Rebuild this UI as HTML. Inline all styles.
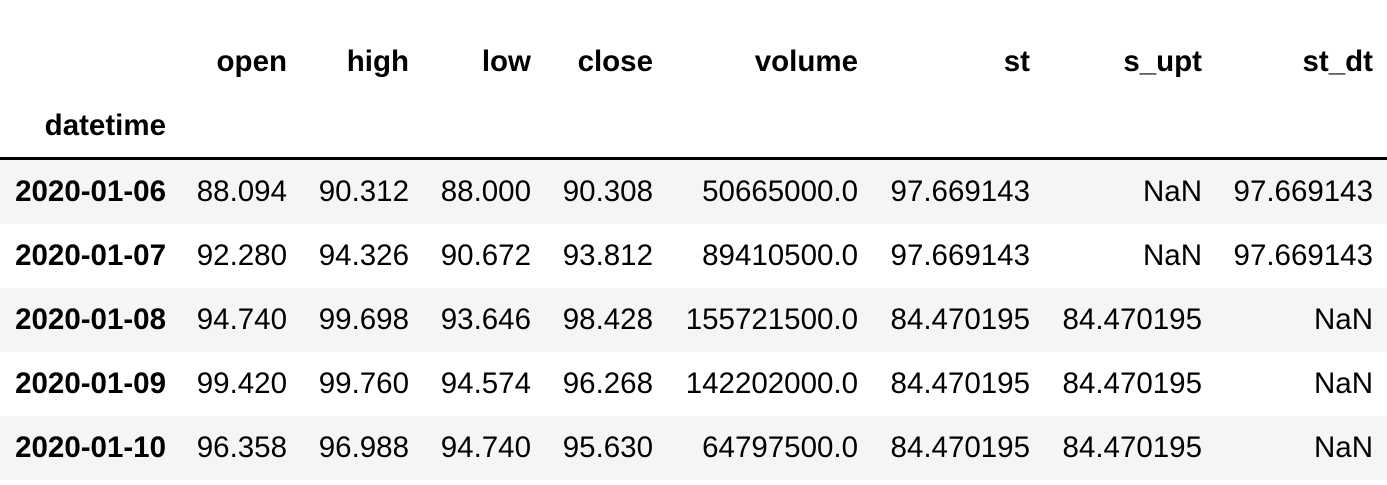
<!DOCTYPE html>
<html><head><meta charset="utf-8"><style>
html,body{margin:0;padding:0;background:#fff;width:1387px;height:485px;overflow:hidden;position:relative;font-family:"Liberation Sans",Arial,sans-serif;color:#000}
.c{position:absolute;font-size:29.5px;line-height:34px;white-space:nowrap;text-align:right}
.b{font-weight:bold}
.row{position:absolute;left:0;width:1387px;height:64px}
.g{background:#f5f5f5}
.rule{position:absolute;left:0;top:157px;width:1387px;height:3px;background:#000}
</style></head><body>
<div class="row g" style="top:160px"></div>
<div class="row" style="top:224px"></div>
<div class="row g" style="top:288px"></div>
<div class="row" style="top:352px"></div>
<div class="row g" style="top:416px"></div>
<div class="rule"></div>
<div id="t"></div>
<script>
const cols=["open","high","low","close","volume","st","s_upt","st_dt"];
const rights=[287,409,531,653,858,1030,1202,1373];
const idx=["2020-01-06","2020-01-07","2020-01-08","2020-01-09","2020-01-10"];
const rows=[
["88.094","90.312","88.000","90.308","50665000.0","97.669143","NaN","97.669143"],
["92.280","94.326","90.672","93.812","89410500.0","97.669143","NaN","97.669143"],
["94.740","99.698","93.646","98.428","155721500.0","84.470195","84.470195","NaN"],
["99.420","99.760","94.574","96.268","142202000.0","84.470195","84.470195","NaN"],
["96.358","96.988","94.740","95.630","64797500.0","84.470195","84.470195","NaN"]];
const t=document.getElementById('t');
function cell(txt,right,cy,bold,name){
 const d=document.createElement('div');
 d.className='c'+(bold?' b':'');
 d.textContent=txt;
 d.style.right=(1387-right)+'px';
 d.style.top=(cy-17)+'px';
 
 
 t.appendChild(d);
}
cols.forEach((c,i)=>cell(c,rights[i],62,true,'header-'+c));
cell('datetime',166,126,true,'index-name');
idx.forEach((d,r)=>{
 const cy=192+r*64;
 cell(d,166,cy,true,'index-'+d);
 rows[r].forEach((v,i)=>cell(v,rights[i],cy,false,'cell-'+cols[i]));
});
</script>
</body></html>
